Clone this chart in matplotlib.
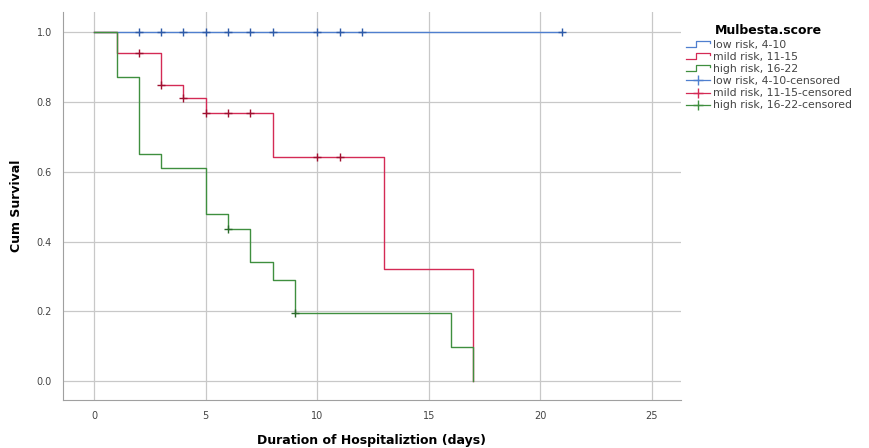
import numpy as np
import matplotlib
matplotlib.use("Agg")
import matplotlib.pyplot as plt
from matplotlib.legend_handler import HandlerBase
from matplotlib.lines import Line2D

# Data
low_times = [0, 21]
low_surv = [1.0, 1.0]
low_cens = [2, 3, 4, 5, 6, 7, 8, 10, 11, 12, 21]

mild_times = [0, 1, 3, 4, 5, 8, 13, 17]
mild_surv = [1.0, 0.94, 0.848, 0.812, 0.767, 0.641, 0.32, 0.0]
mild_cens = [2, 3, 4, 5, 6, 7, 10, 11]

high_times = [0, 1, 2, 3, 5, 6, 7, 8, 9, 16, 17]
high_surv = [1.0, 0.87, 0.65, 0.61, 0.48, 0.435, 0.34, 0.29, 0.195, 0.097, 0.0]
high_cens = [6, 9]

labels = ["low risk, 4-10", "mild risk, 11-15", "high risk, 16-22"]
x_ticks = [0, 5, 10, 15, 20, 25]
y_ticks = [0.0, 0.2, 0.4, 0.6, 0.8, 1.0]

colors = ["#4f7fcf", "#d42a55", "#3f8f3f"]
cens_colors = ["#2d5aa8", "#a01030", "#2a6a2a"]

fig = plt.figure(figsize=(8.7, 4.48), dpi=100)
ax = fig.add_axes([0.0724, 0.107, 0.71, 0.866])

def surv_at(times, surv, t):
    idx = np.searchsorted(times, t, side="right") - 1
    return surv[idx]

series = [(low_times, low_surv, low_cens), (mild_times, mild_surv, mild_cens),
          (high_times, high_surv, high_cens)]

for (t, s, c), col, ccol in zip(series, colors, cens_colors):
    ax.step(t, s, where="post", color=col, lw=1.0, zorder=3)
for (t, s, c), col, ccol in zip(series, colors, cens_colors):
    cy = [surv_at(np.array(t), s, ct) for ct in c]
    ax.plot(c, cy, linestyle="none", marker="+", markersize=6, mew=1.0,
            color=ccol, zorder=4)

ax.set_xlim(-1.4, 26.3)
ax.set_ylim(-0.054, 1.057)
ax.set_xticks(x_ticks)
ax.set_yticks(y_ticks)
ax.set_xticklabels([str(v) for v in x_ticks])
ax.set_yticklabels([f"{v:.1f}" for v in y_ticks])
ax.grid(True, color="#c8c8c8", lw=0.9)
ax.set_axisbelow(True)
for sp in ["top", "right"]:
    ax.spines[sp].set_visible(False)
for sp in ["left", "bottom"]:
    ax.spines[sp].set_color("#a0a0a0")
ax.tick_params(length=0, labelsize=7, colors="#444444", pad=8)
ax.set_xlabel("Duration of Hospitaliztion (days)", fontsize=9, fontweight="bold", labelpad=9)
ax.set_ylabel("Cum Survival", fontsize=9, fontweight="bold", labelpad=10)


class StepHandler(HandlerBase):
    def __init__(self, color):
        super().__init__()
        self.color = color

    def create_artists(self, legend, orig_handle, xdescent, ydescent, width,
                       height, fontsize, trans):
        x0 = -xdescent
        y0 = -ydescent + height * 0.15
        y1 = -ydescent + height * 0.9
        xs = [x0, x0 + width * 0.4, x0 + width * 0.4, x0 + width, x0 + width]
        ys = [y0, y0, y1, y1, y0 + (y1 - y0) * 0.6]
        l = Line2D(xs, ys, color=self.color, lw=0.9, transform=trans)
        return [l]


step_handles = [Line2D([], [], color=c) for c in colors]
cens_handles = [Line2D([], [], color=c, marker="+", markersize=7, lw=0.9) for c in colors]
handles = step_handles + cens_handles
all_labels = labels + [l + "-censored" for l in labels]
hmap = {h: StepHandler(c) for h, c in zip(step_handles, colors)}

leg = fig.legend(handles, all_labels, handler_map=hmap, loc="upper left",
                 bbox_to_anchor=(0.783, 0.955), frameon=False, fontsize=7.8,
                 title="Mulbesta.score", handlelength=2.3, handletextpad=0.25,
                 labelspacing=0.2, borderaxespad=0)
leg.get_title().set_fontweight("bold")
leg.get_title().set_fontsize(9)
for txt in leg.get_texts():
    txt.set_color("#444444")

fig.savefig("out.png", dpi=100)
